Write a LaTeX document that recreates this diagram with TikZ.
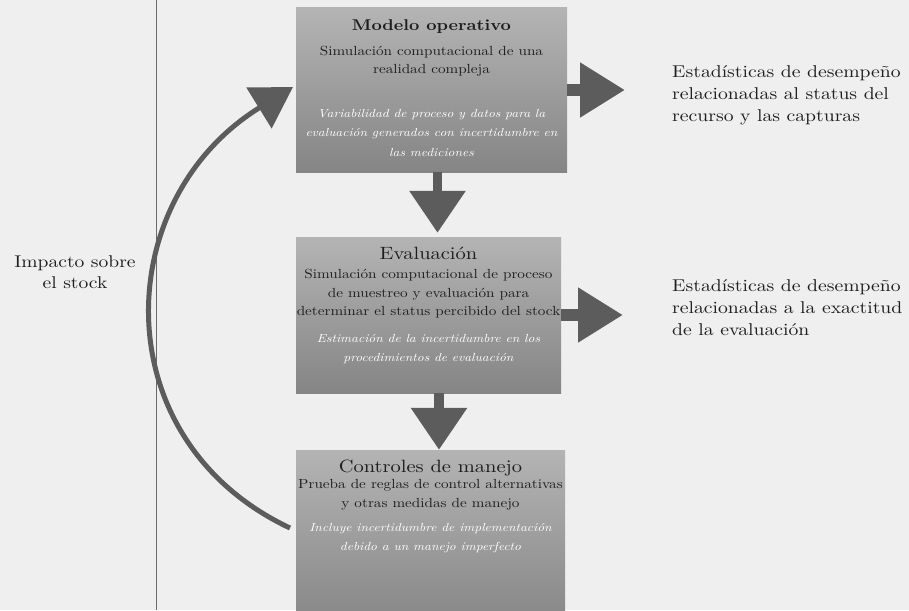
\documentclass[tikz,border=0pt]{standalone}
\usepackage{fontspec}
\setmainfont{lmroman10-regular.otf}[
  BoldFont=lmroman10-bold.otf,
  ItalicFont=lmroman10-italic.otf,
  FakeStretch=1.15]
\usetikzlibrary{positioning,arrows.meta}

\definecolor{paper}{HTML}{EFEFEF}
\definecolor{paneltop}{HTML}{B4B4B4}
\definecolor{panelbottom}{HTML}{858585}
\definecolor{arrowgray}{HTML}{5C5C5C}
\definecolor{inkgray}{HTML}{1E1E1E}
\definecolor{rulegray}{HTML}{6A6A6A}

\tikzset{
  panel/.style={top color=paneltop, bottom color=panelbottom, draw=none, inner sep=0pt},
  paneltitle/.style={align=center, text=inkgray, font=\fontsize{17.8}{22}\selectfont},
  panelsub/.style={align=center, text=inkgray, font=\fontsize{13.2}{18.5}\selectfont},
  panelnote/.style={align=center, text=white, font=\fontsize{11.7}{19.5}\selectfont\itshape},
  sidetext/.style={align=left, anchor=west, inner sep=0pt, text=inkgray, font=\fontsize{17.1}{22}\selectfont},
  downarrow/.style={arrowgray, line width=9.5pt, -{Triangle[length=42pt,width=54pt]}},
  rightarrow/.style={arrowgray, line width=12pt, -{Triangle[length=45pt,width=52pt]}},
  feedback/.style={arrowgray, line width=5pt, -{Triangle[length=40pt,width=47pt]}},
}

\begin{document}
\begin{tikzpicture}[x=1pt,y=-1pt]

    % Page and the dividing rule
    \path[use as bounding box, fill=paper] (0,0) rectangle (909,610);
    \draw[rulegray, line width=0.8pt] (156,0) -- (156,610);

    % The three panels
    \node[panel, minimum width=271pt, minimum height=164pt] (opmodel) at (431.5,90) {};
    \node[panel, minimum width=265pt, minimum height=156pt] (assess) at (428.5,315) {};
    \node[panel, minimum width=269pt, minimum height=180pt] (control) at (430.5,540) {};

    % Texts of the first panel
    \node[paneltitle, font=\fontsize{15.6}{20}\selectfont\bfseries] (opmodel-title) at (431.5,27) {Modelo operativo};
    \node[panelsub] (opmodel-sub) at (431.5,61) {Simulación computacional de una\\ realidad compleja};
    \node[panelnote] (opmodel-note) at (431.5,133) {Variabilidad de proceso y datos para la\\ evaluación generados con incertidumbre en\\ las mediciones};

    % Texts of the second panel
    \node[paneltitle] (assess-title) at (428.5,253) {Evaluación};
    \node[panelsub] (assess-sub) at (428.5,294) {Simulación computacional de proceso\\ de muestreo y evaluación para\\ determinar el status percibido del stock};
    \node[panelnote] (assess-note) at (428.5,349) {Estimación de la incertidumbre en los\\ procedimientos de evaluación};

    % Texts of the third panel
    \node[paneltitle] (control-title) at (430.5,468) {Controles de manejo};
    \node[panelsub] (control-sub) at (430.5,495) {Prueba de reglas de control alternativas\\ y otras medidas de manejo};
    \node[panelnote] (control-note) at (430.5,538) {Incluye incertidumbre de implementación\\ debido a un manejo imperfecto};

    % Side texts
    \node[sidetext] (stats-status) at (672,95) {Estadísticas de desempeño\\ relacionadas al status del\\ recurso y las capturas};
    \node[sidetext] (stats-accuracy) at (672,308) {Estadísticas de desempeño\\ relacionadas a la exactitud\\ de la evaluación};
    \node[sidetext, align=center, anchor=center, font=\fontsize{17}{21}\selectfont] (impact) at (75,272) {Impacto sobre\\ el stock};

    % Block arrows
    \draw[downarrow, shorten >=4pt] ([xshift=6pt]opmodel.south) -- ([xshift=9pt]assess.north);
    \draw[downarrow] ([xshift=10.5pt]assess.south) -- ([xshift=8.5pt]control.north);
    \draw[rightarrow, shorten >=47pt] (opmodel.east) -- (opmodel.east -| stats-status.west);
    \draw[rightarrow, shorten >=49pt] (assess.east) -- (assess.east -| stats-accuracy.west);

    % Feedback loop
    \coordinate (loop-start) at (290,528);
    \coordinate (loop-end) at (293,87);
    \draw[feedback] (loop-start) .. controls (103,440) and (110,200) .. (loop-end);

\end{tikzpicture}
\end{document}
